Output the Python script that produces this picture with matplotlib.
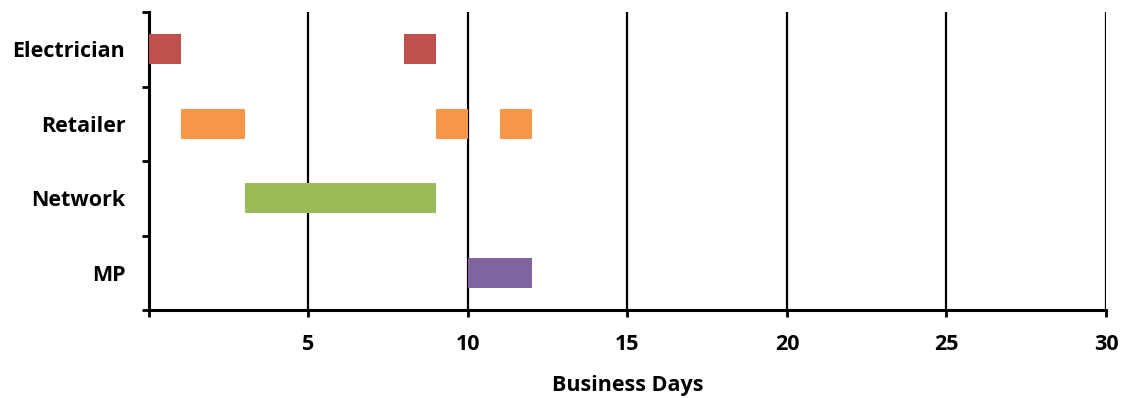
import matplotlib
matplotlib.use("Agg")
import matplotlib.pyplot as plt
from matplotlib.ticker import FixedLocator, NullFormatter

# task rows, top to bottom
roles = ["Electrician", "Retailer", "Network", "MP"]
# (start day, duration in days) for each role
electrician = [(0, 1), (8, 1)]
retailer = [(1, 2), (9, 1), (11, 1)]
network = [(3, 6)]
mp = [(10, 2)]
spans = [electrician, retailer, network, mp]
colors = ["#C0504D", "#F79646", "#9BBB59", "#8064A2"]
xticks = [0, 5, 10, 15, 20, 25, 30]
xticklabels = ["", "5", "10", "15", "20", "25", "30"]

plt.rcParams["font.family"] = ["Open Sans", "DejaVu Sans"]
plt.rcParams["font.weight"] = "bold"
FS = 15.5

fig = plt.figure(figsize=(11.26, 3.98), dpi=100)
ax = fig.add_axes([0.1323, 0.2211, 0.8499, 0.7487])

bh = 0.4
for i, (row, c) in enumerate(zip(spans, colors)):
    ax.broken_barh(row, (i - bh / 2, bh), facecolors=c, zorder=3)

ax.set_xlim(0, 30)
ax.set_ylim(3.5, -0.5)

ax.set_xticks(xticks)
ax.set_xticklabels(xticklabels, fontsize=FS, fontweight="bold")
ax.tick_params(axis="x", direction="out", length=5, width=2, pad=12)

# category boundaries as major ticks, names centred on the rows
ax.yaxis.set_major_locator(FixedLocator([-0.5, 0.5, 1.5, 2.5, 3.5]))
ax.yaxis.set_major_formatter(NullFormatter())
ax.yaxis.set_minor_locator(FixedLocator(range(len(roles))))
ax.set_yticklabels(roles, minor=True, fontsize=FS, fontweight="bold")
ax.tick_params(axis="y", which="major", direction="out", length=5, width=2)
ax.tick_params(axis="y", which="minor", length=0, pad=17)

for x in xticks[1:]:
    ax.axvline(x, color="black", lw=1.6, zorder=1)

for s in ["top", "right"]:
    ax.spines[s].set_visible(False)
ax.spines["left"].set_linewidth(2.2)
ax.spines["bottom"].set_linewidth(2.2)

ax.set_xlabel("Business Days", fontsize=FS, fontweight="bold", labelpad=15)

fig.savefig("out.png", dpi=100)
